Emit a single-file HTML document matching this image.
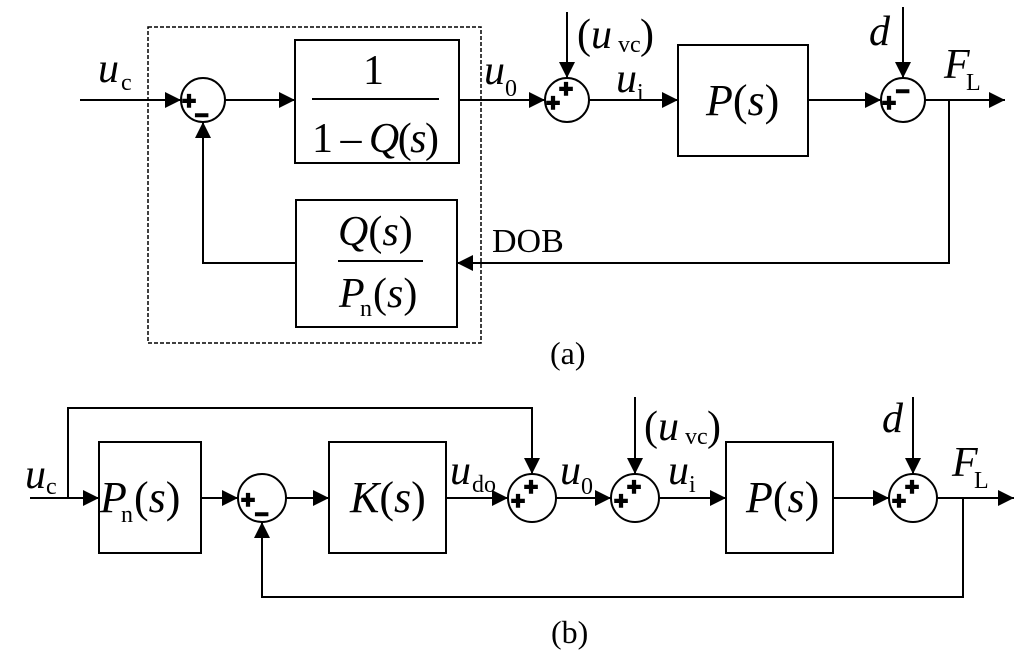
<!DOCTYPE html>
<html><head><meta charset="utf-8"><style>
html,body{margin:0;padding:0;background:#fff;}
svg{display:block;}
text{font-family:"Liberation Serif",serif;fill:#000;}
.i{font-style:italic;}
.pm text{font-family:"Liberation Sans",sans-serif;font-weight:bold;stroke:#000;stroke-width:1.6;}
</style></head><body>
<svg width="1024" height="662" viewBox="0 0 1024 662" xmlns="http://www.w3.org/2000/svg">
<defs>
<marker id="a" viewBox="0 0 10 10" refX="10" refY="5" markerWidth="18" markerHeight="16" markerUnits="userSpaceOnUse" orient="auto"><path d="M0,0L10,5L0,10z" fill="#000"/></marker>
</defs>
<g stroke="#000" stroke-width="2" fill="none">
<rect x="148" y="27" width="333" height="316" stroke-width="1.5" stroke-dasharray="4,2"/>
<line x1="80" y1="100" x2="181" y2="100" marker-end="url(#a)"/>
<circle cx="203" cy="100" r="22"/>
<line x1="225" y1="100" x2="295" y2="100" marker-end="url(#a)"/>
<rect x="295" y="40" width="164" height="123"/>
<line x1="459" y1="100" x2="545" y2="100" marker-end="url(#a)"/>
<circle cx="567" cy="100" r="22"/>
<line x1="567" y1="12" x2="567" y2="78" marker-end="url(#a)"/>
<line x1="589" y1="100" x2="678" y2="100" marker-end="url(#a)"/>
<rect x="678" y="45" width="130" height="111"/>
<line x1="808" y1="100" x2="881" y2="100" marker-end="url(#a)"/>
<circle cx="903" cy="100" r="22"/>
<line x1="903" y1="7" x2="903" y2="78" marker-end="url(#a)"/>
<line x1="925" y1="100" x2="1005" y2="100" marker-end="url(#a)"/>
<polyline points="949,100 949,263 457,263" marker-end="url(#a)"/>
<rect x="296" y="200" width="161" height="127"/>
<polyline points="296,263 203,263 203,122" marker-end="url(#a)"/>
<line x1="312" y1="99" x2="439" y2="99"/>
<line x1="338" y1="261" x2="423" y2="261"/>
<line x1="30" y1="498" x2="99" y2="498" marker-end="url(#a)"/>
<polyline points="68,498 68,408 532,408 532,474" marker-end="url(#a)"/>
<rect x="99" y="442" width="102" height="111"/>
<line x1="201" y1="498" x2="238" y2="498" marker-end="url(#a)"/>
<circle cx="262" cy="498" r="24"/>
<line x1="286" y1="498" x2="329" y2="498" marker-end="url(#a)"/>
<rect x="329" y="442" width="117" height="111"/>
<line x1="446" y1="498" x2="508" y2="498" marker-end="url(#a)"/>
<circle cx="532" cy="498" r="24"/>
<line x1="556" y1="498" x2="611" y2="498" marker-end="url(#a)"/>
<circle cx="635" cy="498" r="24"/>
<line x1="635" y1="397" x2="635" y2="474" marker-end="url(#a)"/>
<line x1="659" y1="498" x2="726" y2="498" marker-end="url(#a)"/>
<rect x="726" y="442" width="107" height="111"/>
<line x1="833" y1="498" x2="889" y2="498" marker-end="url(#a)"/>
<circle cx="913" cy="498" r="24"/>
<line x1="913" y1="397" x2="913" y2="474" marker-end="url(#a)"/>
<line x1="937" y1="498" x2="1014" y2="498" marker-end="url(#a)"/>
<polyline points="963,498 963,597 262,597 262,522" marker-end="url(#a)"/>
</g>
<g class="pm" font-size="24">
<text x="182" y="109">+</text><text x="195" y="122">–</text>
<text x="546" y="111">+</text><text x="559" y="97">+</text>
<text x="882" y="111">+</text><text x="896" y="98">–</text>
<text x="241" y="508">+</text><text x="255" y="521">–</text>
<text x="511" y="509">+</text><text x="524" y="495">+</text>
<text x="614" y="509">+</text><text x="627" y="495">+</text>
<text x="892" y="509">+</text><text x="905" y="495">+</text>
</g>
<text x="98" y="82" font-size="42" class="i">u</text><text x="121" y="90" font-size="24">c</text>
<text x="363" y="84" font-size="42">1</text>
<text x="312" y="152" font-size="42" textLength="127">1 – <tspan class="i">Q</tspan>(<tspan class="i">s</tspan>)</text>
<text x="484" y="84" font-size="42" class="i">u</text><text x="505" y="96" font-size="24">0</text>
<text x="577" y="48" font-size="42">(<tspan class="i">u</tspan></text><text x="618" y="52" font-size="24">vc</text><text x="640" y="48" font-size="42">)</text>
<text x="616" y="92" font-size="42" class="i">u</text><text x="637" y="100" font-size="24">i</text>
<text x="706" y="115" font-size="44"><tspan class="i">P</tspan>(<tspan class="i">s</tspan>)</text>
<text x="869" y="45" font-size="42" class="i">d</text>
<text x="944" y="78" font-size="42" class="i">F</text><text x="966" y="90" font-size="24">L</text>
<text x="492" y="252" font-size="34">DOB</text>
<text x="338" y="245" font-size="42"><tspan class="i">Q</tspan>(<tspan class="i">s</tspan>)</text>
<text x="339" y="307" font-size="42" class="i">P</text><text x="360" y="316" font-size="24">n</text><text x="373" y="307" font-size="42">(<tspan class="i">s</tspan>)</text>
<text x="550" y="364" font-size="32">(a)</text>
<text x="25" y="488" font-size="42" class="i">u</text><text x="46" y="494" font-size="24">c</text>
<text x="100" y="512" font-size="44" class="i">P</text><text x="121" y="522" font-size="24">n</text><text x="134" y="512" font-size="44">(<tspan class="i">s</tspan>)</text>
<text x="350" y="512" font-size="44"><tspan class="i">K</tspan>(<tspan class="i">s</tspan>)</text>
<text x="450" y="484" font-size="42" class="i">u</text><text x="472" y="492" font-size="24">do</text>
<text x="560" y="484" font-size="42" class="i">u</text><text x="581" y="494" font-size="24">0</text>
<text x="644" y="440" font-size="42">(<tspan class="i">u</tspan></text><text x="685" y="444" font-size="24">vc</text><text x="707" y="440" font-size="42">)</text>
<text x="668" y="484" font-size="42" class="i">u</text><text x="689" y="492" font-size="24">i</text>
<text x="746" y="512" font-size="44"><tspan class="i">P</tspan>(<tspan class="i">s</tspan>)</text>
<text x="882" y="432" font-size="42" class="i">d</text>
<text x="952" y="476" font-size="42" class="i">F</text><text x="974" y="488" font-size="24">L</text>
<text x="551" y="643" font-size="32">(b)</text>
</svg>
</body></html>
